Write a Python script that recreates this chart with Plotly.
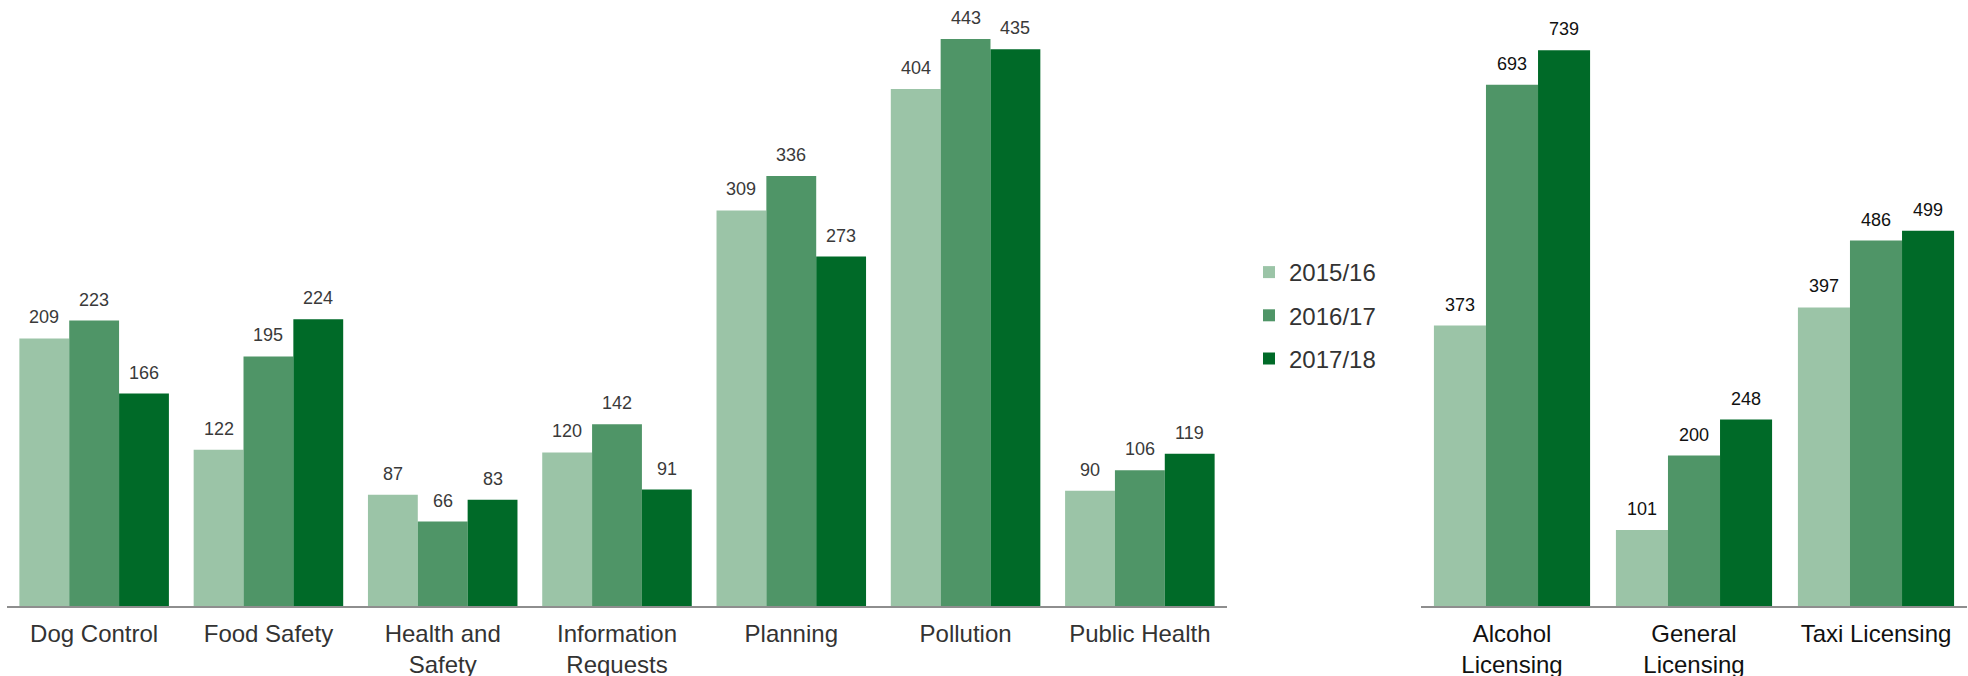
import plotly.graph_objects as go

# ---------------- data ----------------
left_categories = ["Dog Control", "Food Safety", "Health and Safety", "Information Requests",
                   "Planning", "Pollution", "Public Health"]
left_ticktext = ["Dog Control", "Food Safety", "Health and<br>Safety", "Information<br>Requests",
                 "Planning", "Pollution", "Public Health"]
left_2015_16 = [209, 122, 87, 120, 309, 404, 90]
left_2016_17 = [223, 195, 66, 142, 336, 443, 106]
left_2017_18 = [166, 224, 83, 91, 273, 435, 119]

right_categories = ["Alcohol Licensing", "General Licensing", "Taxi Licensing"]
right_ticktext = ["Alcohol<br>Licensing", "General<br>Licensing", "Taxi Licensing"]
right_2015_16 = [373, 101, 397]
right_2016_17 = [693, 200, 486]
right_2017_18 = [739, 248, 499]

series_names = ["2015/16", "2016/17", "2017/18"]
colors = ["#9BC4A7", "#4F9567", "#006A28"]

FONT = "Liberation Sans, Arial, sans-serif"
BARGAP = 0.142
W, H = 1968, 676
AXIS_Y = 606  # pixel row of the baseline

fig = go.Figure()

left_series = [left_2015_16, left_2016_17, left_2017_18]
right_series = [right_2015_16, right_2016_17, right_2017_18]

for i, name in enumerate(series_names):
    fig.add_trace(go.Bar(
        x=left_categories, y=left_series[i], name=name,
        marker=dict(color=colors[i], line=dict(width=0)),
        xaxis="x", yaxis="y", legendgroup=name, showlegend=True,
        hoverinfo="x+y+name",
    ))
for i, name in enumerate(series_names):
    fig.add_trace(go.Bar(
        x=right_categories, y=right_series[i], name=name,
        marker=dict(color=colors[i], line=dict(width=0)),
        xaxis="x2", yaxis="y2", legendgroup=name, showlegend=False,
        hoverinfo="x+y+name",
    ))

# value labels
bw = (1 - BARGAP) / 3
annotations = []
for i in range(3):
    off = (i - 1) * bw
    for j, v in enumerate(left_series[i]):
        annotations.append(dict(x=j + off, y=v, xref="x", yref="y", text=str(v),
                                showarrow=False, yanchor="middle", yshift=21,
                                font=dict(family=FONT, size=18, color="#3a3a3a")))
    for j, v in enumerate(right_series[i]):
        annotations.append(dict(x=j + off, y=v, xref="x2", yref="y2", text=str(v),
                                showarrow=False, yanchor="middle", yshift=21,
                                font=dict(family=FONT, size=18, color="#111111")))

ybottom = (H - AXIS_Y) / H
fig.update_layout(
    width=W, height=H,
    margin=dict(l=0, r=0, t=0, b=0),
    paper_bgcolor="white", plot_bgcolor="white",
    barmode="group", bargap=BARGAP, bargroupgap=0,
    font=dict(family=FONT, color="#333333"),
    showlegend=True,
    legend=dict(x=1249 / W, y=1 - 250 / H, xanchor="left", yanchor="top",
                font=dict(family=FONT, size=24, color="#333333"),
                traceorder="grouped", tracegroupgap=9,
                bgcolor="rgba(0,0,0,0)", borderwidth=0),
    xaxis=dict(domain=[7 / W, 1227 / W], type="category",
               tickmode="array", tickvals=left_categories, ticktext=left_ticktext,
               showline=True, linecolor="#8E8E8E", linewidth=2,
               ticks="", showgrid=False, zeroline=False, ticklabelstandoff=5,
               automargin=False,
               tickfont=dict(family=FONT, size=24, color="#333333")),
    yaxis=dict(domain=[ybottom, 1], range=[0, AXIS_Y / 1.280],
               visible=False, showgrid=False, zeroline=False),
    xaxis2=dict(domain=[1421 / W, 1967 / W], type="category", anchor="y2",
                tickmode="array", tickvals=right_categories, ticktext=right_ticktext,
                showline=True, linecolor="#8E8E8E", linewidth=2,
                ticks="", showgrid=False, zeroline=False, ticklabelstandoff=5,
                automargin=False,
                tickfont=dict(family=FONT, size=24, color="#111111")),
    yaxis2=dict(domain=[ybottom, 1], range=[0, AXIS_Y / 0.752], anchor="x2",
                visible=False, showgrid=False, zeroline=False),
    annotations=annotations,
)

fig.write_html("out.html",
               config={"displayModeBar": False},
               post_script="document.body.style.margin='0';document.body.style.overflow='hidden';")
